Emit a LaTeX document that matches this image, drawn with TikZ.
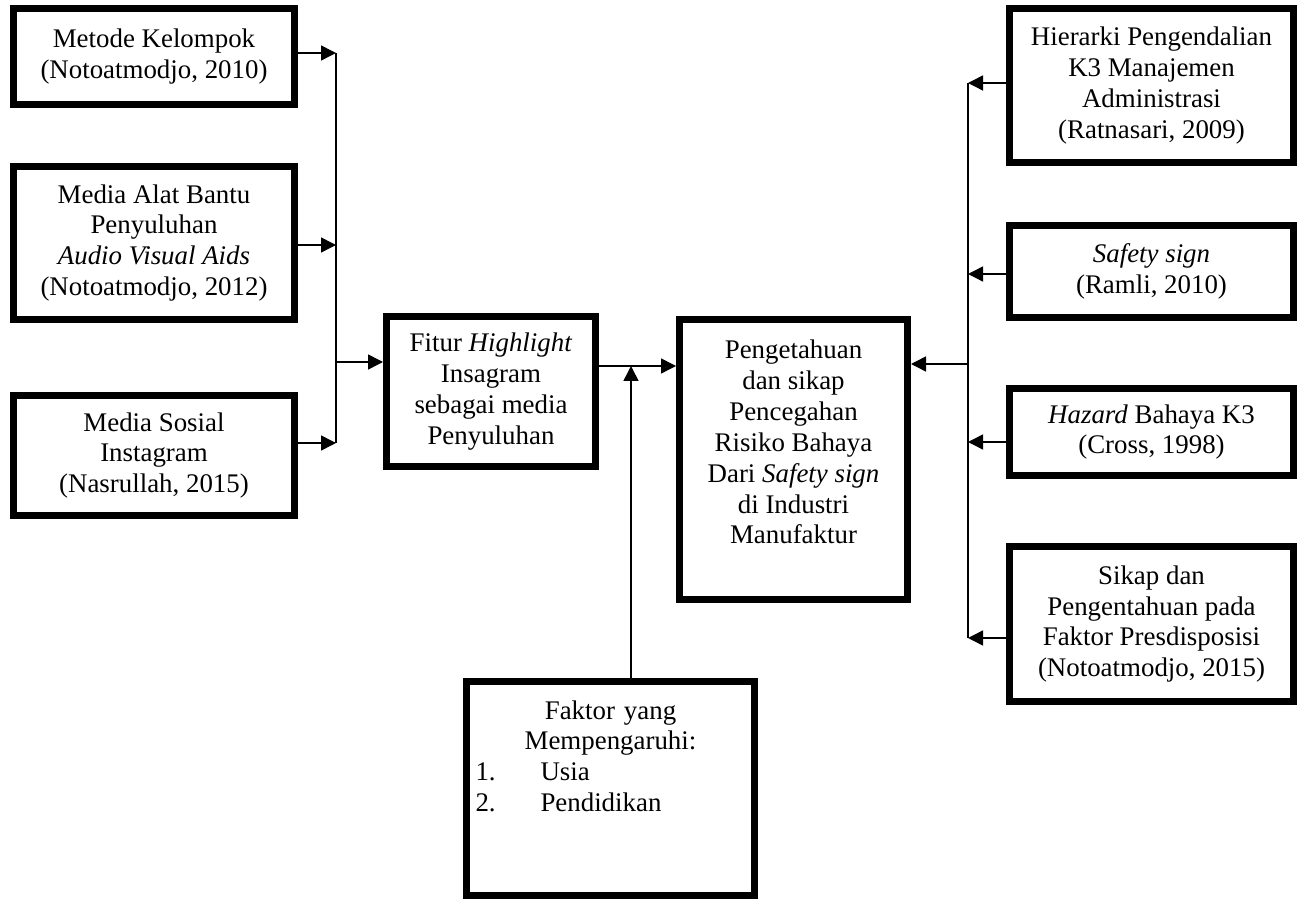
\documentclass[tikz,border=0pt]{standalone}
\usepackage{fontspec}
\setmainfont{Liberation Serif}
\usepackage{tikz}
\usetikzlibrary{arrows.meta, positioning, calc}

\begin{document}
\begin{tikzpicture}[
        x=0.02cm, y=-0.02cm,
        % kotak dengan garis tepi tebal
        box/.style={rectangle, draw=black, line width=4pt, fill=white, align=center, inner sep=2pt, font=\fontsize{15.3}{17.6}\selectfont},
        teks/.style={align=center, inner sep=0pt, font=\fontsize{15.3}{17.6}\selectfont},
        line/.style={draw=black, line width=0.85pt},
        arrow/.style={-{Triangle[length=0.3cm, width=0.3cm]}, line width=0.85pt, draw=black}
    ]
    \useasboundingbox (0,0) rectangle (1304,901);

    % 1. Kotak kiri
    \node (metode) [box, minimum width=5.62cm, minimum height=1.92cm] at (154,56.5) {Metode Kelompok \\ (Notoatmodjo, 2010)};
    \node (alat) [box, minimum width=5.62cm, minimum height=3.06cm] at (154,243) {Media Alat Bantu \\ Penyuluhan \\ \textit{Audio Visual Aids} \\ (Notoatmodjo, 2012)};
    \node (sosial) [box, minimum width=5.62cm, minimum height=2.4cm] at (154,455.5) {Media Sosial \\ Instagram \\ (Nasrullah, 2015)};

    % 2. Fitur Highlight
    \node (fitur) [box, minimum width=4.18cm, minimum height=3cm] at (491,391.5) {Fitur \textit{Highlight} \\ Insagram \\ sebagai media \\ Penyuluhan};

    % 3. Kotak tengah
    \node (pusat) [box, minimum width=4.56cm, minimum height=5.6cm] at (793.5,459.5) {};
    \node (pusat-teks) [teks] at (793.5,442) {Pengetahuan \\ dan sikap \\ Pencegahan \\ Risiko Bahaya \\ Dari \textit{Safety sign} \\ di Industri \\ Manufaktur};

    % 4. Faktor yang mempengaruhi
    \node (faktor) [box, minimum width=5.76cm, minimum height=4.28cm] at (610.5,788.5) {};
    \node (faktor-teks) [teks, anchor=north, text width=5.6cm, align=left] at (610.5,700) {%
        \centering Faktor yang\\ Mempengaruhi:\par
        \raggedright\hspace*{0.1cm}\makebox[1.3cm][l]{1.}Usia\\
        \hspace*{0.1cm}\makebox[1.3cm][l]{2.}Pendidikan\par};

    % 5. Kotak kanan
    \node (hierarki) [box, minimum width=5.68cm, minimum height=3.08cm] at (1151.5,85.5) {Hierarki Pengendalian \\ K3 Manajemen \\ Administrasi \\ (Ratnasari, 2009)};
    \node (safety) [box, minimum width=5.68cm, minimum height=1.84cm] at (1151.5,271.5) {\textit{Safety sign} \\ (Ramli, 2010)};
    \node (hazard) [box, minimum width=5.68cm, minimum height=1.74cm] at (1151.5,432) {\textit{Hazard} Bahaya K3 \\ (Cross, 1998)};
    \node (sikap) [box, minimum width=5.68cm, minimum height=3.1cm] at (1151.5,624) {Sikap dan \\ Pengentahuan pada \\ Faktor Presdisposisi \\ (Notoatmodjo, 2015)};

    % Titik cabang
    \coordinate (a1) at (336,53);
    \coordinate (a2) at (336,245);
    \coordinate (a3) at (336,443);
    \coordinate (busL) at (336,362);
    \coordinate (gabung) at (631,366);
    \coordinate (b1) at (968,83);
    \coordinate (b2) at (968,274);
    \coordinate (b3) at (968,442);
    \coordinate (b4) at (968,638);
    \coordinate (busR) at (968,364);

    % Panah kiri -> Fitur
    \draw [arrow] (metode.east |- a1) -- (a1);
    \draw [arrow] (alat.east |- a2) -- (a2);
    \draw [arrow] (sosial.east |- a3) -- (a3);
    \draw [line] (a1) -- (a3);
    \draw [arrow] (busL) -- (fitur.west |- busL);

    % Fitur -> kotak tengah, faktor dari bawah
    \draw [arrow] (fitur.east |- gabung) -- (pusat.west |- gabung);
    \draw [arrow] (faktor.north -| gabung) -- (gabung);

    % Panah kanan -> kotak tengah
    \draw [arrow] (hierarki.west |- b1) -- (b1);
    \draw [arrow] (safety.west |- b2) -- (b2);
    \draw [arrow] (hazard.west |- b3) -- (b3);
    \draw [arrow] (sikap.west |- b4) -- (b4);
    \draw [line] (b1) -- (b4);
    \draw [arrow] (busR) -- (pusat.east |- busR);

\end{tikzpicture}
\end{document}
